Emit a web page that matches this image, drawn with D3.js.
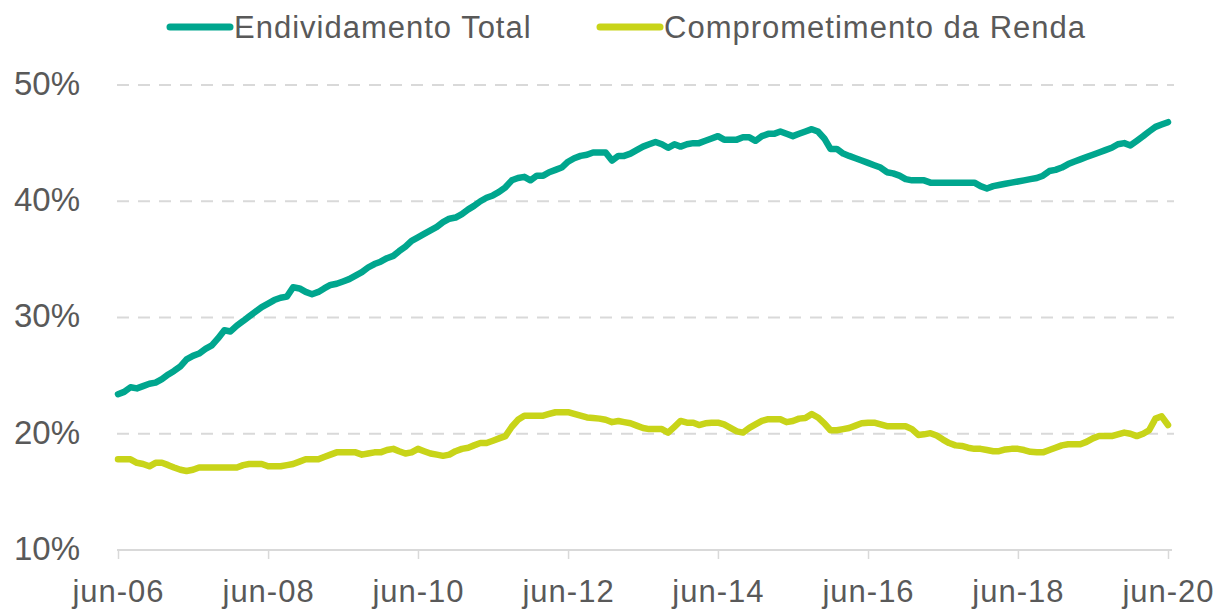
<!DOCTYPE html>
<html>
<head>
<meta charset="utf-8">
<script src="https://cdn.jsdelivr.net/npm/d3@7/dist/d3.min.js"></script>
<style>
  html, body { margin: 0; padding: 0; background: #fff; }
  svg text { font-family: "Liberation Sans", Arial, sans-serif; fill: #595959; }
</style>
</head>
<body>
<svg id="chart" width="1224" height="613"></svg>
<script>
// monthly series, jun-06 .. jun-20 (% of income)
var endividamento = [
  23.4, 23.6, 24.0, 23.9, 24.1, 24.3, 24.4, 24.7, 25.1, 25.4, 25.8, 26.4,
  26.7, 26.9, 27.3, 27.6, 28.2, 28.9, 28.8, 29.3, 29.7, 30.1, 30.5, 30.9,
  31.2, 31.5, 31.7, 31.8, 32.6, 32.5, 32.2, 32.0, 32.2, 32.5, 32.8, 32.9,
  33.1, 33.3, 33.6, 33.9, 34.3, 34.6, 34.8, 35.1, 35.3, 35.7, 36.1, 36.6,
  36.9, 37.2, 37.5, 37.8, 38.2, 38.5, 38.6, 38.9, 39.3, 39.6, 40.0, 40.3,
  40.5, 40.8, 41.2, 41.8, 42.0, 42.1, 41.8, 42.2, 42.2, 42.5, 42.7, 42.9,
  43.4, 43.7, 43.9, 44.0, 44.2, 44.2, 44.2, 43.5, 43.9, 43.9, 44.1, 44.4,
  44.7, 44.9, 45.1, 44.9, 44.6, 44.9, 44.7, 44.9, 45.0, 45.0, 45.2, 45.4,
  45.6, 45.3, 45.3, 45.3, 45.5, 45.5, 45.2, 45.6, 45.8, 45.8, 46.0, 45.8,
  45.6, 45.8, 46.0, 46.2, 46.0, 45.4, 44.5, 44.5, 44.1, 43.9, 43.7, 43.5,
  43.3, 43.1, 42.9, 42.5, 42.4, 42.2, 41.9, 41.8, 41.8, 41.8, 41.6, 41.6,
  41.6, 41.6, 41.6, 41.6, 41.6, 41.6, 41.3, 41.1, 41.3, 41.4, 41.5, 41.6,
  41.7, 41.8, 41.9, 42.0, 42.2, 42.6, 42.7, 42.9, 43.2, 43.4, 43.6, 43.8,
  44.0, 44.2, 44.4, 44.6, 44.9, 45.0, 44.8, 45.2, 45.6, 46.0, 46.4, 46.6,
  46.8
];
var comprometimento = [
  17.8, 17.8, 17.8, 17.5, 17.4, 17.2, 17.5, 17.5, 17.3, 17.1, 16.9, 16.8,
  16.9, 17.1, 17.1, 17.1, 17.1, 17.1, 17.1, 17.1, 17.3, 17.4, 17.4, 17.4,
  17.2, 17.2, 17.2, 17.3, 17.4, 17.6, 17.8, 17.8, 17.8, 18.0, 18.2, 18.4,
  18.4, 18.4, 18.4, 18.2, 18.3, 18.4, 18.4, 18.6, 18.7, 18.5, 18.3, 18.4,
  18.7, 18.5, 18.3, 18.2, 18.1, 18.2, 18.5, 18.7, 18.8, 19.0, 19.2, 19.2,
  19.4, 19.6, 19.8, 20.6, 21.2, 21.55, 21.55, 21.55, 21.55, 21.7, 21.85, 21.85,
  21.85, 21.7, 21.55, 21.4, 21.35, 21.3, 21.2, 21.0, 21.1, 21.0, 20.9, 20.7,
  20.5, 20.4, 20.4, 20.4, 20.1, 20.6, 21.1, 20.95, 20.95, 20.75, 20.9, 20.95,
  20.95, 20.8, 20.5, 20.2, 20.1, 20.5, 20.8, 21.1, 21.25, 21.25, 21.25, 21.0,
  21.1, 21.3, 21.35, 21.7, 21.4, 20.9, 20.3, 20.3, 20.4, 20.5, 20.7, 20.9,
  20.95, 20.95, 20.8, 20.65, 20.65, 20.65, 20.65, 20.4, 19.9, 19.95, 20.05, 19.85,
  19.5, 19.2, 19.0, 18.95, 18.8, 18.7, 18.7, 18.6, 18.5, 18.5, 18.65, 18.7,
  18.7, 18.6, 18.45, 18.4, 18.4, 18.6, 18.8, 19.0, 19.1, 19.1, 19.1, 19.3,
  19.6, 19.8, 19.8, 19.8, 19.95, 20.1, 20.0, 19.8, 20.0, 20.3, 21.3, 21.5,
  20.75
];
var seriesNames = ["Endividamento Total", "Comprometimento da Renda"];
var seriesColors = ["#00a68e", "#c8d419"];
var yTicks = [10, 20, 30, 40, 50];
var xTickLabels = ["jun-06", "jun-08", "jun-10", "jun-12", "jun-14", "jun-16", "jun-18", "jun-20"];

var months = d3.timeMonth.range(new Date(2006, 5, 1), new Date(2020, 6, 1));
var xTicks = xTickLabels.map(function (d) {
  return new Date(2000 + (+d.split("-")[1]), 5, 1);
});

var svg = d3.select("#chart");
var x = d3.scaleTime().domain([months[0], months[months.length - 1]]).range([118, 1168]);
var y = d3.scaleLinear().domain([10, 50]).range([550, 85]);

// gridlines
svg.append("g").selectAll("line")
  .data(yTicks.filter(function (d) { return d > 10; }))
  .enter().append("line")
  .attr("x1", 117).attr("x2", 1174)
  .attr("y1", function (d) { return y(d); })
  .attr("y2", function (d) { return y(d); })
  .attr("stroke", "#d9d9d9")
  .attr("stroke-width", 2)
  .attr("stroke-dasharray", "12,9");

// x axis
var xAxis = svg.append("g").attr("transform", "translate(0,550)")
  .call(d3.axisBottom(x).tickValues(xTicks).tickSize(9).tickSizeOuter(0)
    .tickFormat(function (d, i) { return xTickLabels[i]; }));
xAxis.select(".domain").attr("stroke", "#d9d9d9").attr("stroke-width", 2)
  .attr("d", "M117,0H1172");
xAxis.selectAll(".tick line").attr("stroke", "#d9d9d9").attr("stroke-width", 1.5);
xAxis.selectAll(".tick text")
  .attr("y", 30).attr("dy", "0.71em")
  .style("font-size", "31px").style("letter-spacing", "1px")
  .style("font-family", "Liberation Sans, Arial, sans-serif")
  .attr("fill", "#595959");

// y labels
svg.append("g").selectAll("text")
  .data(yTicks).enter().append("text")
  .attr("x", 80)
  .attr("y", function (d) { return y(d); })
  .attr("dy", "0.3em")
  .attr("text-anchor", "end")
  .style("font-size", "33px")
  .text(function (d) { return d + "%"; });

// lines
var line = d3.line()
  .x(function (d, i) { return x(months[i]); })
  .y(function (d) { return y(d); });

[endividamento, comprometimento].forEach(function (s, k) {
  svg.append("path")
    .datum(s)
    .attr("d", line)
    .attr("fill", "none")
    .attr("stroke", seriesColors[k])
    .attr("stroke-width", 6.5)
    .attr("stroke-linejoin", "round")
    .attr("stroke-linecap", "round");
});

// legend
var legendX = [170, 600];
var legend = svg.append("g").selectAll("g")
  .data(seriesNames).enter().append("g")
  .attr("transform", function (d, i) { return "translate(" + legendX[i] + ",27)"; });
legend.append("line")
  .attr("x1", 0).attr("x2", 60)
  .attr("stroke", function (d, i) { return seriesColors[i]; })
  .attr("stroke-width", 7)
  .attr("stroke-linecap", "round");
legend.append("text")
  .attr("x", 64).attr("dy", "0.36em")
  .style("font-size", "31px")
  .style("letter-spacing", "1px")
  .text(function (d) { return d; });
</script>
</body>
</html>
